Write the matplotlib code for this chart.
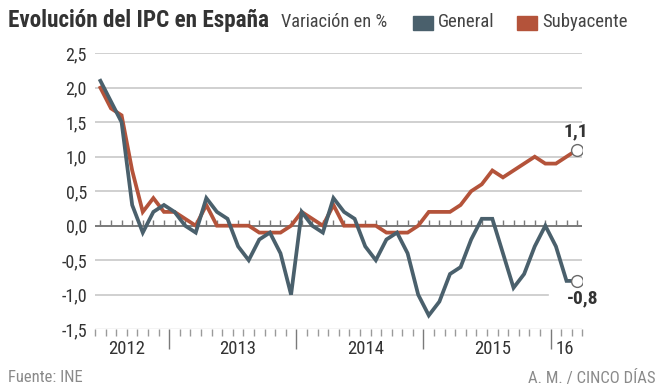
import matplotlib
matplotlib.use("Agg")
import matplotlib.pyplot as plt
from matplotlib import font_manager
from matplotlib.patches import Rectangle
import numpy as np

# narrow face if one is there, else Liberation Sans
installed = {f.name for f in font_manager.fontManager.ttflist}
wanted = ['Liberation Sans Narrow', 'Roboto Condensed', 'Arial Narrow', 'Liberation Sans', 'Roboto']
fams = [f for f in wanted if f in installed][:1] + ['DejaVu Sans']
plt.rcParams['font.family'] = fams
narrow = fams[0] in ('Liberation Sans Narrow', 'Roboto Condensed', 'Arial Narrow')
k = 1.0 if narrow else 0.88

# monthly values
general = [2.1, 1.8, 1.5, 0.3, -0.1, 0.2, 0.3, 0.2, 0.0, -0.1, 0.4, 0.2,
           0.1, -0.3, -0.5, -0.2, -0.1, -0.4, -1.0, 0.2, 0.0, -0.1, 0.4, 0.2,
           0.1, -0.3, -0.5, -0.2, -0.1, -0.4, -1.0, -1.3, -1.1, -0.7, -0.6, -0.2,
           0.1, 0.1, -0.4, -0.9, -0.7, -0.3, 0.0, -0.3, -0.8, -0.8]
subyacente = [2.0, 1.7, 1.6, 0.8, 0.2, 0.4, 0.2, 0.2, 0.1, 0.0, 0.3, 0.0,
              0.0, 0.0, 0.0, -0.1, -0.1, -0.1, 0.0, 0.2, 0.1, 0.0, 0.3, 0.0,
              0.0, 0.0, 0.0, -0.1, -0.1, -0.1, 0.0, 0.2, 0.2, 0.2, 0.3, 0.5,
              0.6, 0.8, 0.7, 0.8, 0.9, 1.0, 0.9, 0.9, 1.0, 1.1]
year_labels = ['2012', '2013', '2014', '2015', '16']
year_label_pos = [3.0, 13.5, 25.5, 37.5, 44.3]
year_breaks = [7, 19, 31, 43]
yticks = [-1.5, -1.0, -0.5, 0.0, 0.5, 1.0, 1.5, 2.0, 2.5]

C_GEN = '#4a606c'
C_SUB = '#b4533a'
TXT = '#333333'
W, H = 664, 390

def fx(px):
    return px / W

def fy(py):
    return 1 - py / H

fig = plt.figure(figsize=(W / 100, H / 100), dpi=100)
ax = fig.add_axes([fx(95.1), fy(329.2), fx(582.4) - fx(95.1), fy(53.2) - fy(329.2)])

n = len(general)
x = np.arange(n) + 0.5
xmax = n

# grid
for v in yticks[1:]:
    if v == 0:
        continue
    end = 42.75 / xmax if v == -1.0 else 1
    ax.axhline(v, xmin=0, xmax=end, color='#c8c8c8', lw=1.2, zorder=1)
ax.axhline(-1.5, color='#c8c8c8', lw=1.0, zorder=1)
ax.axhline(0, color='#7a7a7a', lw=1.4, zorder=2)
ax.vlines(x, 0, 0.085, color='#7a7a7a', lw=1.0, zorder=2)

ax.plot(x, subyacente, color=C_SUB, lw=2.7, solid_joinstyle='miter', zorder=3)
ax.plot(x, general, color=C_GEN, lw=2.7, solid_joinstyle='miter', zorder=4)

ax.plot(x[-1], subyacente[-1], 'o', mfc='white', mec='#6a6a6a', mew=1.0, ms=8.5, zorder=5)
ax.plot(x[-1], general[-1], 'o', mfc='white', mec='#6a6a6a', mew=1.0, ms=8.5, zorder=5)
ax.text(x[-1] - 0.1, subyacente[-1] + 0.13, '1,1', ha='center', va='bottom',
        fontsize=14 * k, weight='bold', color=TXT)
ax.text(x[-1] + 0.5, general[-1] - 0.12, '-0,8', ha='center', va='top',
        fontsize=14 * k, weight='bold', color=TXT)

ax.set_xlim(0, xmax)
ax.set_ylim(-1.5, 2.5)
for s in ax.spines.values():
    s.set_visible(False)
ax.set_xticks([])
ax.set_yticks(yticks)
ax.set_yticklabels([f'{v:.1f}'.replace('.', ',') for v in yticks])
ax.tick_params(axis='y', length=0, pad=6, labelsize=13 * k, labelcolor=TXT)

# bottom month ticks
tr = ax.get_xaxis_transform()
months = np.arange(0, xmax + 1)
small = [m for m in months if m not in year_breaks]
ax.vlines(small, -0.025, 0, color='#9a9a9a', lw=1.0, transform=tr, clip_on=False)
ax.vlines(year_breaks, -0.07, 0, color='#7a7a7a', lw=1.0, transform=tr, clip_on=False)
for lab, p in zip(year_labels, year_label_pos):
    ax.text(p, -0.072, lab, transform=tr, ha='center', va='center',
            fontsize=13.5 * k, color=TXT)

# header
fig.text(fx(8), fy(21), 'Evolución del IPC en España', fontsize=16.7 * k, weight='bold',
         color=TXT, va='center', ha='left')
fig.text(fx(281), fy(22), 'Variación en %', fontsize=13.2 * k, color='#444444',
         va='center', ha='left')
fig.add_artist(Rectangle((fx(413), fy(30)), fx(20), fy(16) - fy(30),
                         transform=fig.transFigure, color=C_GEN))
fig.text(fx(438), fy(22), 'General', fontsize=13.5 * k, color='#444444', va='center')
fig.add_artist(Rectangle((fx(517), fy(30)), fx(20), fy(16) - fy(30),
                         transform=fig.transFigure, color=C_SUB))
fig.text(fx(542), fy(22), 'Subyacente', fontsize=13.5 * k, color='#444444', va='center')

# footer
fig.text(fx(8), fy(378), 'Fuente: INE', fontsize=12 * k, color='#8a8a8a', va='center')
fig.text(fx(656), fy(378), 'A. M. / CINCO DÍAS', fontsize=12 * k, color='#8a8a8a',
         va='center', ha='right')

fig.savefig('out.png', dpi=100)
